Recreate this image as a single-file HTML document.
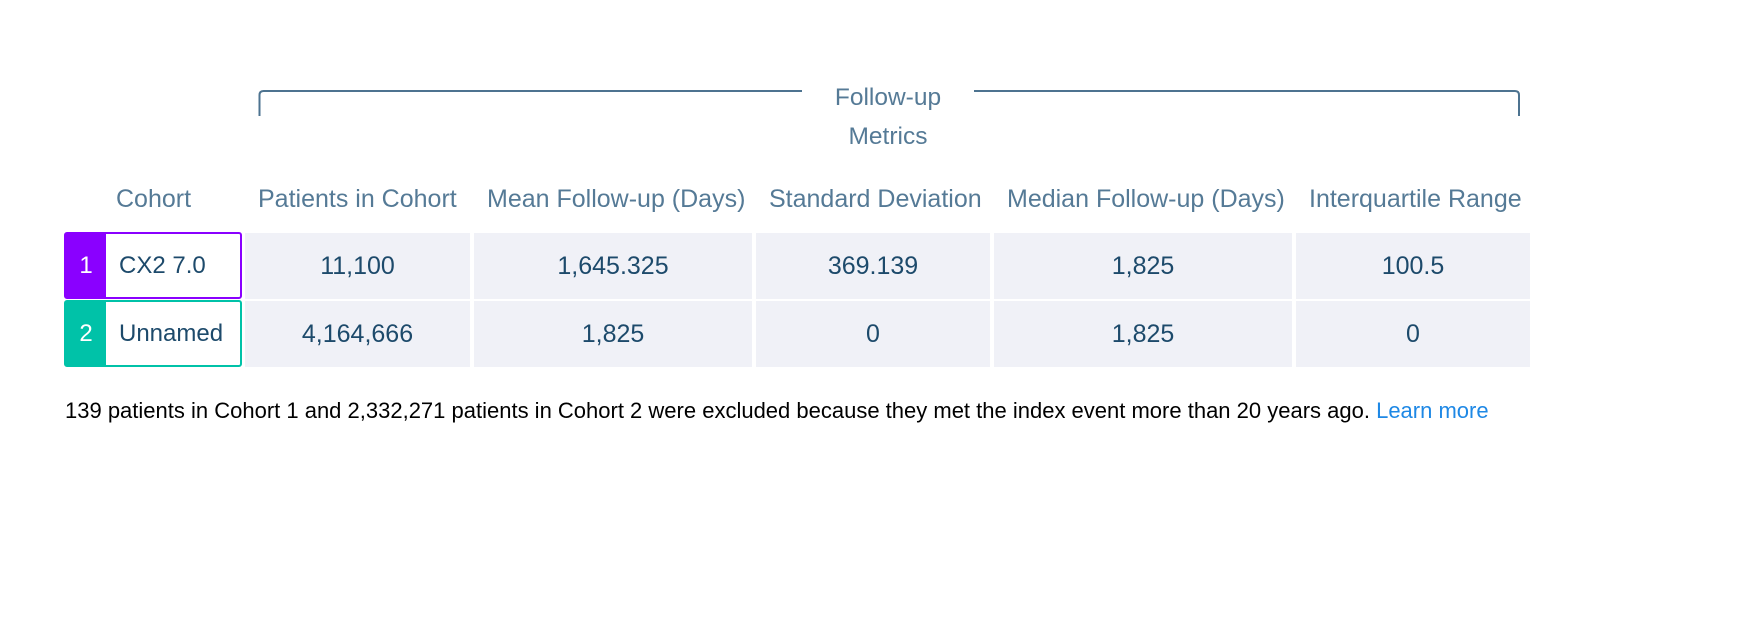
<!DOCTYPE html>
<html><head><meta charset="utf-8">
<style>
body{margin:0;width:1746px;height:640px;background:#fff;position:relative;overflow:hidden;font-family:"Liberation Sans",sans-serif;}
.abs{position:absolute;}
.hdr{position:absolute;top:186px;font-size:25px;color:#557a96;white-space:nowrap;line-height:26px;}
.cell{position:absolute;background:#f0f1f7;color:#1d4a6b;font-size:25px;display:flex;align-items:center;justify-content:center;}
.coh{position:absolute;left:64px;width:178px;box-sizing:border-box;border:2px solid;border-radius:3px;background:#fff;display:flex;align-items:center;}
.num{width:40px;height:100%;color:#fff;font-size:24px;display:flex;align-items:center;justify-content:center;}
.cname{padding-left:13px;font-size:24px;color:#1d4a6b;}
</style></head><body>
<svg class="abs" style="left:0;top:0" width="1746" height="140">
<path d="M259.5 116 V95 Q259.5 91 263.5 91 H802 M974 91 H1515 Q1519 91 1519 95 V116" fill="none" stroke="#4d7390" stroke-width="2"/>
</svg>
<div class="abs" style="left:790px;width:196px;top:78px;text-align:center;font-size:24.5px;color:#557a96;line-height:39px;">Follow-up<br>Metrics</div>
<div id="table"></div>
<div class="abs" style="left:65px;top:398px;font-size:22px;color:#000;white-space:nowrap;">139 patients in Cohort 1 and 2,332,271 patients in Cohort 2 were excluded because they met the index event more than 20 years ago. <span style="color:#1e88e5;cursor:pointer">Learn more</span></div>
<script>
const headers=["Patients in Cohort","Mean Follow-up (Days)","Standard Deviation","Median Follow-up (Days)","Interquartile Range"];
const cohortNames=["CX2 7.0","Unnamed"];
const cohortColors=["#8a00ff","#00c2a8"];
const row1Values=["11,100","1,645.325","369.139","1,825","100.5"];
const row2Values=["4,164,666","1,825","0","1,825","0"];
const colLeft=[245,474,756,994,1296];
const colRight=[470,752,990,1292,1530];
const rowTop=[233,301];
const rowH=66;
const t=document.getElementById('table');
const ch=document.createElement('div');
ch.className='hdr';ch.style.left='116px';ch.textContent='Cohort';


t.appendChild(ch);
headers.forEach((h,i)=>{
  const d=document.createElement('div');
  d.className='hdr';d.style.left=(colLeft[i]+13)+'px';d.textContent=h;
  
  
  t.appendChild(d);
});
[row1Values,row2Values].forEach((vals,r)=>{
  const c=document.createElement('div');
  c.className='coh';c.style.top=(rowTop[r]-1)+'px';c.style.height=(rowH+1)+'px';c.style.borderColor=cohortColors[r];
  
  
  c.innerHTML='<div class="num" style="background:'+cohortColors[r]+'">'+(r+1)+'</div><div class="cname">'+cohortNames[r]+'</div>';
  t.appendChild(c);
  vals.forEach((v,i)=>{
    const d=document.createElement('div');
    d.className='cell';
    d.style.left=colLeft[i]+'px';d.style.width=(colRight[i]-colLeft[i])+'px';
    d.style.top=rowTop[r]+'px';d.style.height=rowH+'px';
    d.textContent=v;
    
    
    t.appendChild(d);
  });
});
</script>
</body></html>
